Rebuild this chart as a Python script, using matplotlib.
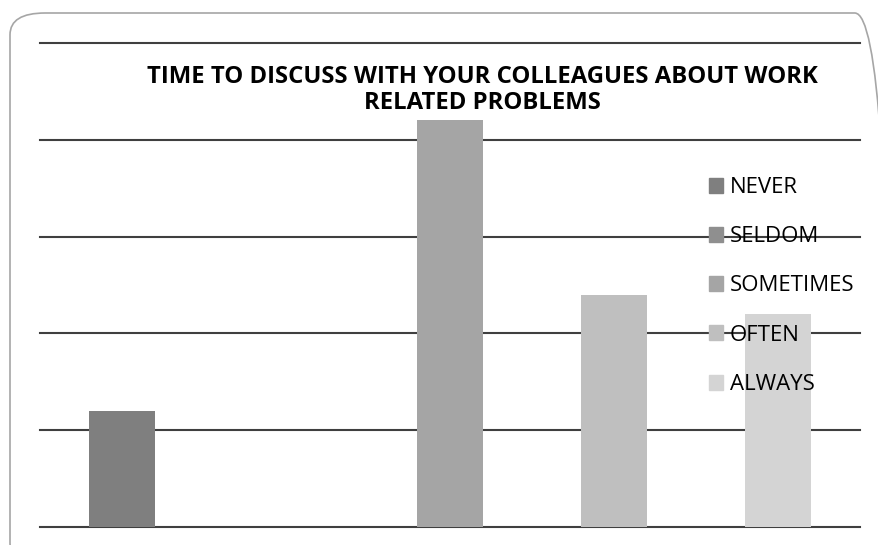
import matplotlib
matplotlib.use("Agg")
import matplotlib.pyplot as plt
from matplotlib.patches import FancyBboxPatch, Patch

categories = ["NEVER", "SELDOM", "SOMETIMES", "OFTEN", "ALWAYS"]
counts = [6, 0, 21, 12, 11]
colors = ["#7f7f7f", "#8f8f8f", "#a5a5a5", "#bfbfbf", "#d4d4d4"]
yticks = [0, 5, 10, 15, 20, 25]

W, H = 879, 545
fig = plt.figure(figsize=(W / 100, H / 100), dpi=100)

# rounded frame around the whole chart
frame = FancyBboxPatch((10 / W, -20 / H), 880 / W, 512 / H + 40 / H,
                       boxstyle="round,pad=0,rounding_size=0.04",
                       transform=fig.transFigure, fill=False,
                       edgecolor="#a6a6a6", linewidth=1.2, clip_on=False)
fig.patches.append(frame)

ax = fig.add_axes([40 / W, 18 / H, 820 / W, 484 / H])
x = range(len(categories))
bars = ax.bar(x, counts, width=0.4, color=colors, zorder=2)

ax.set_xlim(-0.5, len(categories) - 0.5)
ax.set_ylim(0, 25)
ax.set_yticks(yticks)
ax.set_xticks([])
ax.tick_params(left=False, labelleft=False)
for y in yticks:
    ax.axhline(y, color="#3f3f3f", lw=1.5, zorder=1, clip_on=False)
for s in ax.spines.values():
    s.set_visible(False)

fig.text(482 / W, 1 - 90 / H,
         "TIME TO DISCUSS WITH YOUR COLLEAGUES ABOUT WORK\nRELATED PROBLEMS",
         ha="center", va="center", fontsize=17.2, fontweight="bold",
         family="Open Sans", linespacing=1.06)

handles = [Patch(color=c) for c in colors]
leg = ax.legend(handles, categories, loc="upper left",
                bbox_to_anchor=(709 / W, 1 - 177 / H), bbox_transform=fig.transFigure,
                frameon=False, handlelength=0.65, handleheight=0.65,
                handletextpad=0.3, labelspacing=1.27, borderaxespad=0,
                borderpad=0, prop={"family": "Open Sans", "size": 16})
leg.set_zorder(5)

fig.savefig("out.png", dpi=100)
